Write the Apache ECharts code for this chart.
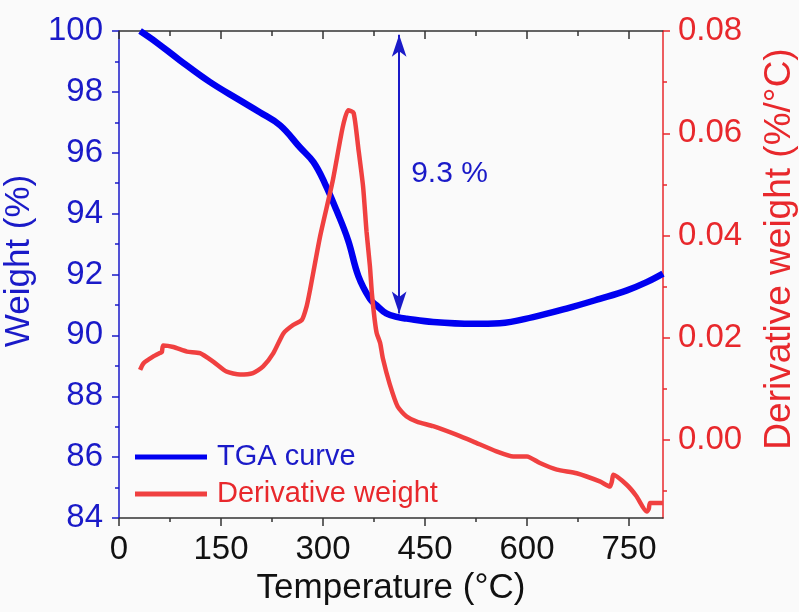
<!DOCTYPE html>
<html><head><meta charset="utf-8">
<script src="https://cdn.jsdelivr.net/npm/echarts@6/dist/echarts.min.js"></script>
<style>html,body{margin:0;padding:0;background:#fafafa}#c{width:799px;height:612px}</style>
</head><body><div id="c"></div>
<script>
// ---- data ----
const tgaTemp = [31,55,90,134,178,207,237,266,286,303,320,337,352,369,379,393,410,423,462,521,560,609,658,707,747,776,800];
const tgaWeight = [100,99.63,99.03,98.32,97.72,97.33,96.90,96.18,95.69,94.98,94.10,93.12,91.95,91.20,90.98,90.72,90.60,90.55,90.44,90.38,90.40,90.60,90.88,91.20,91.48,91.75,92.03];

const derTemp = [31,36,50,60,63,65,80,100,119,139,158,178,197,212,227,242,256,269,276,281,296,314,329,337,345,352,359,364,369,372,376,379,384,388,398,410,423,438,462,497,521,555,580,600,619,644,673,707,722,725,727,747,761,776,779,781,800];
const derValue = [0.0137,0.0150,0.0163,0.0170,0.0172,0.0185,0.0182,0.0173,0.0170,0.0153,0.0134,0.0128,0.0131,0.0144,0.0170,0.0209,0.0225,0.0235,0.0262,0.0294,0.0400,0.0505,0.0612,0.0645,0.0640,0.0570,0.0495,0.0408,0.0340,0.0285,0.0235,0.0209,0.0190,0.0160,0.0110,0.0065,0.0046,0.0036,0.0027,0.0010,-0.0003,-0.0022,-0.0032,-0.0032,-0.0045,-0.0058,-0.0065,-0.0081,-0.0091,-0.0080,-0.0068,-0.0088,-0.0110,-0.0140,-0.0135,-0.0123,-0.0123];

const tempTicks = [0,150,300,450,600,750];
const tempMinorTicks = [75,225,375,525,675];
const weightMin = 84, weightMax = 100, weightStep = 2;
const derivMin = -0.01525, derivMax = 0.08;
const derivTicks = [0,0.02,0.04,0.06,0.08];
const derivMinorTicks = [-0.01,0.01,0.03,0.05,0.07];

const arrowTemp = 412, arrowTop = 99.88, arrowBottom = 90.72;
const lossLabel = '9.3 %', lossLabelWeight = 95.32;

// ---- styles ----
const BLUE = '#0000f0', BLUE_T = '#1a1ac8', RED = '#f04040', RED_T = '#e8282c';
const FONT = "'Liberation Sans', Arial, sans-serif";

const chart = echarts.init(document.getElementById('c'), null, {renderer: 'canvas'});

const xBase = {type: 'value', min: 0, max: 800, gridIndex: 0, splitLine: {show: false}};

chart.setOption({
  backgroundColor: '#fafafa',
  animation: false,
  textStyle: {fontFamily: FONT},
  grid: {left: 119, right: 136, top: 31, bottom: 94, containLabel: false, outerBoundsMode: 'none'},
  legend: {
    orient: 'vertical', left: 135, top: 441, padding: 0,
    itemWidth: 72, itemHeight: 5, itemGap: 5, icon: 'rect',
    textStyle: {fontSize: 29, lineHeight: 32, fontFamily: FONT, padding: [0,0,0,5]},
    data: [
      {name: 'TGA curve', textStyle: {color: BLUE_T}},
      {name: 'Derivative weight', textStyle: {color: RED_T}}
    ]
  },
  xAxis: [
    Object.assign({}, xBase, {
      position: 'bottom',
      name: 'Temperature (°C)', nameLocation: 'middle', nameGap: 53,
      nameTextStyle: {fontSize: 35, color: '#111', fontFamily: FONT},
      axisLine: {show: true, onZero: false, lineStyle: {color: '#333', width: 1.5}},
      axisTick: {show: true, inside: false, length: 8, customValues: tempTicks, lineStyle: {color: '#333', width: 1.5}},
      axisLabel: {show: true, customValues: tempTicks, margin: 15, fontSize: 33, color: '#111', fontFamily: FONT}
    }),
    Object.assign({}, xBase, {
      position: 'top',
      axisLine: {show: true, onZero: false, lineStyle: {color: '#333', width: 1.5}},
      axisTick: {show: true, inside: true, length: 8, customValues: tempTicks, lineStyle: {color: '#333', width: 1.5}},
      axisLabel: {show: false}
    }),
    Object.assign({}, xBase, {
      position: 'bottom',
      axisLine: {show: false, onZero: false},
      axisTick: {show: true, inside: false, length: 4, customValues: tempMinorTicks, lineStyle: {color: '#333', width: 1.5}},
      axisLabel: {show: false}
    }),
    Object.assign({}, xBase, {
      position: 'top',
      axisLine: {show: false, onZero: false},
      axisTick: {show: true, inside: true, length: 5, customValues: tempMinorTicks, lineStyle: {color: '#333', width: 1.5}},
      axisLabel: {show: false}
    })
  ],
  yAxis: [
    {
      type: 'value', position: 'left', min: weightMin, max: weightMax, interval: weightStep,
      name: 'Weight (%)', nameLocation: 'middle', nameGap: 73,
      nameTextStyle: {fontSize: 35, color: BLUE_T, fontFamily: FONT, padding: [0,0,0,27]},
      splitLine: {show: false},
      axisLine: {show: true, onZero: false, lineStyle: {color: BLUE_T, width: 1.5}},
      axisTick: {show: true, inside: false, length: 7, lineStyle: {color: BLUE_T, width: 1.5}},
      minorTick: {show: true, splitNumber: 2, length: 4, lineStyle: {color: BLUE_T, width: 1.5}},
      axisLabel: {margin: 16, fontSize: 33, color: BLUE_T, fontFamily: FONT}
    },
    {
      type: 'value', position: 'right', min: derivMin, max: derivMax,
      name: 'Derivative weight (%/°C)', nameLocation: 'middle', nameGap: 98,
      nameTextStyle: {fontSize: 37, color: RED_T, fontFamily: FONT, padding: [0,0,0,51]},
      splitLine: {show: false},
      axisLine: {show: true, onZero: false, lineStyle: {color: RED_T, width: 1.5}},
      axisTick: {show: true, inside: false, length: 7, customValues: derivTicks, lineStyle: {color: RED_T, width: 1.5}},
      axisLabel: {customValues: derivTicks, margin: 15, fontSize: 33, color: RED_T, fontFamily: FONT,
        formatter: v => Number(v).toFixed(2)}
    },
    {
      type: 'value', position: 'right', min: derivMin, max: derivMax,
      splitLine: {show: false},
      axisLine: {show: false, onZero: false},
      axisTick: {show: true, inside: false, length: 4, customValues: derivMinorTicks, lineStyle: {color: RED_T, width: 1.5}},
      axisLabel: {show: false}
    }
  ],
  series: [
    {
      name: 'TGA curve', type: 'line', xAxisIndex: 0, yAxisIndex: 0,
      data: tgaTemp.map((t, i) => [t, tgaWeight[i]]),
      showSymbol: false, symbol: 'none', smooth: 0.4,
      color: BLUE, lineStyle: {color: BLUE, width: 6.5}, itemStyle: {color: BLUE},
      markLine: {
        silent: true, symbol: ['arrow', 'arrow'], symbolSize: [11, 22],
        lineStyle: {color: BLUE_T, width: 2, type: 'solid'}, label: {show: false},
        data: [[{coord: [arrowTemp, arrowTop]}, {coord: [arrowTemp, arrowBottom]}]]
      },
      markPoint: {
        silent: true,
        data: [{coord: [arrowTemp, lossLabelWeight], symbol: 'circle', symbolSize: 0,
          itemStyle: {color: 'transparent'},
          label: {show: true, position: 'right', distance: 12, formatter: lossLabel,
            fontSize: 30, color: BLUE_T, fontFamily: FONT}}]
      }
    },
    {
      name: 'Derivative weight', type: 'line', xAxisIndex: 0, yAxisIndex: 1,
      data: derTemp.map((t, i) => [t, derValue[i]]),
      showSymbol: false, symbol: 'none', smooth: 0.2,
      color: RED, lineStyle: {color: RED, width: 4.5}, itemStyle: {color: RED}
    }
  ]
});
</script></body></html>
